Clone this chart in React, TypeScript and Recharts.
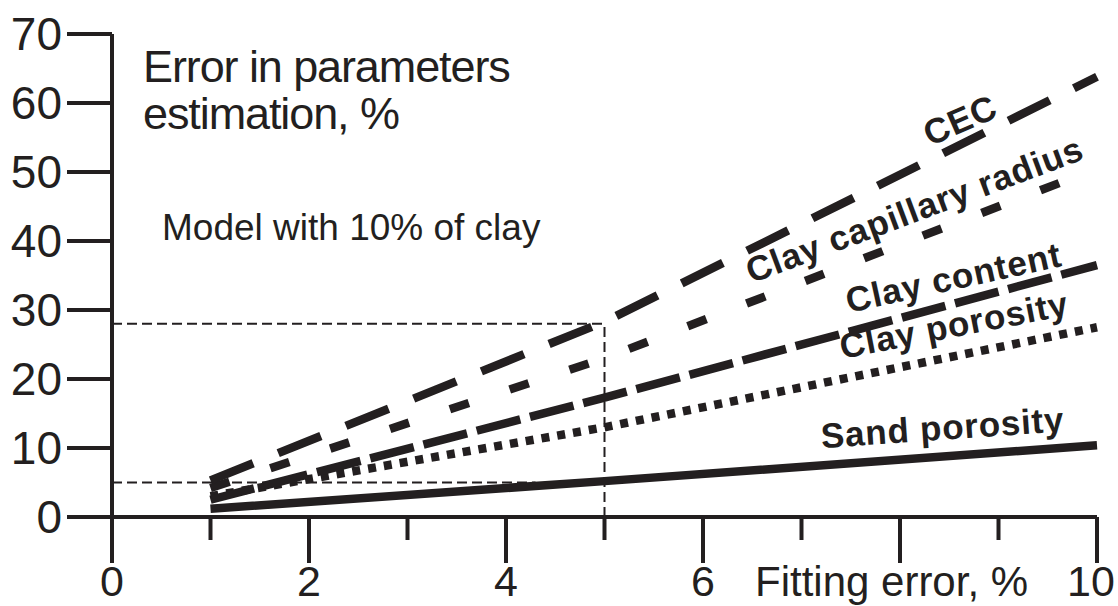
import { LineChart, Line, XAxis, YAxis, ReferenceLine, ReferenceDot } from "recharts";

// fitting error (%) at which the curves were read
const fittingError = [1, 5, 10];

// error in parameters estimation (%)
const cec = [5.3, 28.3, 63.8];
const clayCapillaryRadius = [4.2, 23, 50.5];
const clayContent = [2.5, 17.3, 36.5];
const clayPorosity = [3.0, 13, 27.5];
const sandPorosity = [1.2, 5.2, 10.4];

const xTicks = [0, 1, 2, 3, 4, 5, 6, 7, 8, 9, 10];
const xTickLabels = [0, 2, 4, 6, 10];
const yTicks = [0, 10, 20, 30, 40, 50, 60, 70];

// dashed guide lines (fitting error, error)
const guideLines = [
    [{ x: 0, y: 28 }, { x: 5, y: 28 }],
    [{ x: 5, y: 0 }, { x: 5, y: 28 }],
    [{ x: 0, y: 5 }, { x: 4.3, y: 5 }],
];

// curve labels: text, anchor in data units, rotation
const curveLabels = [
    { text: "CEC", x: 8.66, y: 55.9, angle: -23.5 },
    { text: "Clay capillary radius", x: 8.19, y: 42.9, angle: -20.5 },
    { text: "Clay content", x: 8.57, y: 33.0, angle: -12.4 },
    { text: "Clay porosity", x: 8.57, y: 26.1, angle: -11 },
    { text: "Sand porosity", x: 8.44, y: 11.2, angle: -4 },
];

const ink = "#231f20";
const font = "'Liberation Sans', Arial, Helvetica, sans-serif";

const data = fittingError.map((fe, i) => ({
    fe,
    cec: cec[i],
    radius: clayCapillaryRadius[i],
    content: clayContent[i],
    clayPor: clayPorosity[i],
    sandPor: sandPorosity[i],
}));

function XTick(props: any) {
    const { x, y, payload } = props;
    const v = payload.value;
    const major = v % 2 === 0;
    // last label sits a bit inside the edge
    const shift = v === 10 ? -6 : 0;
    return (
        <g>
            <line x1={x} x2={x} y1={y} y2={y + (major ? 46 : 23)} stroke={ink} strokeWidth={4} />
            {xTickLabels.includes(v) && (
                <text x={x + shift} y={y + 79} textAnchor="middle" fontSize={43} fontFamily={font} fill={ink}>
                    {v}
                </text>
            )}
        </g>
    );
}

function curveLabelShape(label: { text: string; angle: number }) {
    return (props: any) => (
        <text
            x={props.cx}
            y={props.cy}
            textAnchor="middle"
            fontSize={35}
            fontWeight="bold"
            letterSpacing={0.8}
            fontFamily={font}
            fill={ink}
            transform={`rotate(${label.angle} ${props.cx} ${props.cy})`}
        >
            {label.text}
        </text>
    );
}

export default function App() {
    return (
        <div style={{ position: "absolute", left: 0, top: 0, width: 1118, height: 606, background: "#fff" }}>
            <LineChart width={1118} height={606} data={data} margin={{ top: 34, right: 21, left: 0, bottom: 0 }}>
                <XAxis
                    dataKey="fe"
                    type="number"
                    domain={[0, 10]}
                    ticks={xTicks}
                    interval={0}
                    height={89}
                    tickSize={0}
                    tickMargin={0}
                    tickLine={false}
                    axisLine={{ stroke: ink, strokeWidth: 4 }}
                    tick={<XTick />}
                />
                <YAxis
                    type="number"
                    domain={[0, 70]}
                    ticks={yTicks}
                    interval={0}
                    width={112}
                    tickSize={45}
                    tickMargin={5}
                    tickLine={{ stroke: ink, strokeWidth: 4 }}
                    axisLine={{ stroke: ink, strokeWidth: 4 }}
                    tick={{ fontSize: 46, fontFamily: font, fill: ink }}
                />
                {guideLines.map((seg, i) => (
                    <ReferenceLine key={i} segment={seg} stroke={ink} strokeWidth={2} strokeDasharray="10 5" />
                ))}
                <Line type="linear" dataKey="sandPor" stroke={ink} strokeWidth={8.5} dot={false} isAnimationActive={false} />
                <Line type="linear" dataKey="clayPor" stroke={ink} strokeWidth={8.5} strokeDasharray="8 8" dot={false} isAnimationActive={false} />
                <Line type="linear" dataKey="content" stroke={ink} strokeWidth={8.5} strokeDasharray="45 10" dot={false} isAnimationActive={false} />
                <Line type="linear" dataKey="radius" stroke={ink} strokeWidth={8.5} strokeDasharray="20 43" dot={false} isAnimationActive={false} />
                <Line type="linear" dataKey="cec" stroke={ink} strokeWidth={8.5} strokeDasharray="46 27" dot={false} isAnimationActive={false} />
                {curveLabels.map((l) => (
                    <ReferenceDot key={l.text} x={l.x} y={l.y} r={0} shape={curveLabelShape(l)} />
                ))}
                <text x={143} y={82} fontSize={45} letterSpacing={-1.1} fontFamily={font} fill={ink}>
                    Error in parameters
                </text>
                <text x={143} y={129} fontSize={45} letterSpacing={-1.1} fontFamily={font} fill={ink}>
                    estimation, %
                </text>
                <text x={162} y={240} fontSize={37} fontFamily={font} fill={ink}>
                    Model with 10% of clay
                </text>
                <text x={755} y={596} fontSize={42} fontFamily={font} fill={ink}>
                    Fitting error, %
                </text>
            </LineChart>
        </div>
    );
}
